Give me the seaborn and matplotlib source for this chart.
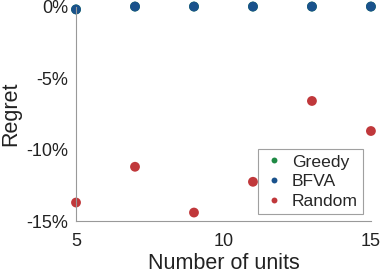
import seaborn as sns
import matplotlib.pyplot as plt
import pandas as pd

sns.set_theme(style="white")
plt.rcParams['font.family'] = ['Liberation Sans', 'DejaVu Sans']

units = [5, 7, 9, 11, 13, 15]
greedy = [-0.2, 0.0, 0.0, 0.0, 0.0, 0.0]
bfva = [-0.2, 0.0, 0.0, 0.0, 0.0, 0.0]
random_ = [-13.7, -11.2, -14.4, -12.25, -6.6, -8.7]

df = pd.DataFrame({
    "units": units * 3,
    "regret": greedy + bfva + random_,
    "method": ["Greedy"] * 6 + ["BFVA"] * 6 + ["Random"] * 6,
})
palette = {"Greedy": "#1f8a45", "BFVA": "#1a528c", "Random": "#c0383b"}

fig = plt.figure(figsize=(3.82, 2.73), dpi=100)
ax = fig.add_axes([0.199, 0.19, 0.772, 0.786])
sns.scatterplot(data=df, x="units", y="regret", hue="method", palette=palette,
                s=50, edgecolor="none", clip_on=False, ax=ax)

ax.set_xlim(5, 15)
ax.set_ylim(-15, 0)
ax.set_xticks([5, 10, 15])
ax.set_yticks([0, -5, -10, -15])
ax.set_yticklabels(["0%", "-5%", "-10%", "-15%"])
ax.tick_params(direction="in", length=3, labelsize=13, color="#888888",
               labelcolor="#222222")
ax.tick_params(axis="x", pad=8.5)
ax.tick_params(axis="y", pad=5.5)
for side in ["top", "right"]:
    ax.spines[side].set_visible(False)
for side in ["left", "bottom"]:
    ax.spines[side].set_color("#999999")
    ax.spines[side].set_linewidth(0.8)
ax.set_xlabel("Number of units", fontsize=15.5, color="#222222", labelpad=2)
ax.set_ylabel("Regret", fontsize=15.5, color="#222222", labelpad=3.5)

leg = ax.legend(loc="lower right", bbox_to_anchor=(0.973, 0.033), fontsize=12.6,
                frameon=True, fancybox=False, markerscale=0.6,
                handletextpad=0.4, borderpad=0.3, labelspacing=0.25,
                handlelength=1.2, borderaxespad=0)
leg.get_frame().set_edgecolor("#888888")
leg.get_frame().set_linewidth(0.8)

fig.savefig("out.png", dpi=100)
